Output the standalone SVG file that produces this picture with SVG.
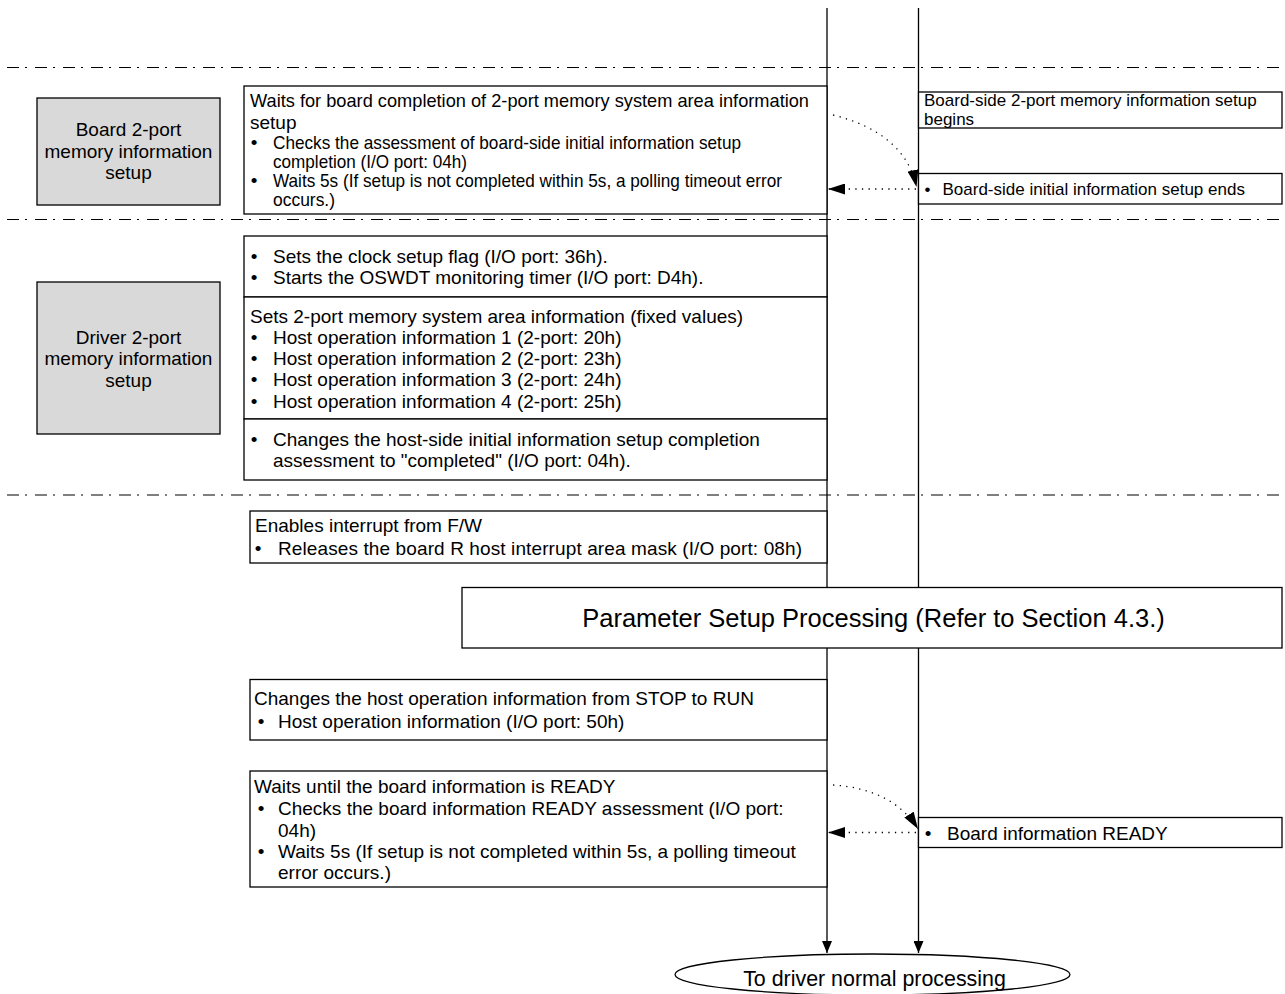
<svg xmlns="http://www.w3.org/2000/svg" width="1285" height="994" viewBox="0 0 1285 994">
  <style>
    text { font-family: "Liberation Sans", Arial, sans-serif; fill: #000; }
    .t { font-size: 19px; }
    .s { font-size: 17px; }
    .c { text-anchor: middle; }
    .box { fill: #fff; stroke: #000; stroke-width: 1.3; }
    .phase { fill: #d9d9d9; stroke: #000; stroke-width: 1.3; }
    .sep { fill: none; stroke: #000; stroke-width: 1.2; stroke-dasharray: 12 6 2 8; }
    .life { fill: none; stroke: #000; stroke-width: 1.3; }
    .dot { fill: none; stroke: #000; stroke-width: 1.3; stroke-dasharray: 1.3 5.3; }
  </style>
  <defs>
    <marker id="arrow-dot" markerUnits="userSpaceOnUse" viewBox="0 0 17 11" refX="17" refY="5.5" markerWidth="17" markerHeight="11" orient="auto">
      <path d="M0,0 L17,5.5 L0,11 z" fill="#000"/>
    </marker>
    <marker id="arrow-down" markerUnits="userSpaceOnUse" viewBox="0 0 12 10" refX="12" refY="5" markerWidth="12" markerHeight="10" orient="auto">
      <path d="M0,0 L12,5 L0,10 z" fill="#000"/>
    </marker>
  </defs>

  <rect width="1285" height="994" fill="#fff"/>

  <!-- phase separators -->
  <g id="separators">
    <line class="sep" x1="7" y1="67.5" x2="1285" y2="67.5"/>
    <line class="sep" x1="7" y1="219.5" x2="1285" y2="219.5"/>
    <line class="sep" x1="7" y1="495" x2="1285" y2="495"/>
  </g>

  <!-- lifelines and connectors -->
  <g id="connectors">
    <path class="life" d="M827,8 V953" marker-end="url(#arrow-down)"/>
    <path class="life" d="M918.5,8 V953" marker-end="url(#arrow-down)"/>
    <path class="dot" d="M833,115 Q905,133 916.5,187" marker-end="url(#arrow-dot)"/>
    <path class="dot" d="M916,189 H828" marker-end="url(#arrow-dot)"/>
    <path class="dot" d="M833,785 Q893,789 918,829" marker-end="url(#arrow-dot)"/>
    <path class="dot" d="M916,832.5 H828" marker-end="url(#arrow-dot)"/>
  </g>

  <!-- phase labels -->
  <g id="phase-board">
    <rect class="phase" x="37" y="98" width="183" height="107"/>
    <text class="t c" x="128.5" y="136">Board 2-port</text>
    <text class="t c" x="128.5" y="158">memory information</text>
    <text class="t c" x="128.5" y="179">setup</text>
  </g>
  <g id="phase-driver">
    <rect class="phase" x="37" y="282" width="183" height="152"/>
    <text class="t c" x="128.5" y="344">Driver 2-port</text>
    <text class="t c" x="128.5" y="365">memory information</text>
    <text class="t c" x="128.5" y="387">setup</text>
  </g>

  <!-- host-side steps -->
  <g id="wait-board-setup">
    <rect class="box" x="244" y="86" width="583" height="128"/>
    <text class="t" x="250" y="107" textLength="559" lengthAdjust="spacingAndGlyphs">Waits for board completion of 2-port memory system area information</text>
    <text class="t" x="250" y="128.5">setup</text>
    <text class="t c" x="254" y="148.5">•</text>
    <text class="t" x="273" y="148.5" textLength="468" lengthAdjust="spacingAndGlyphs">Checks the assessment of board-side initial information setup</text>
    <text class="t" x="273" y="168" textLength="194" lengthAdjust="spacingAndGlyphs">completion (I/O port: 04h)</text>
    <text class="t c" x="254" y="187">•</text>
    <text class="t" x="273" y="187" textLength="509" lengthAdjust="spacingAndGlyphs">Waits 5s (If setup is not completed within 5s, a polling timeout error</text>
    <text class="t" x="273" y="206" textLength="62" lengthAdjust="spacingAndGlyphs">occurs.)</text>
  </g>

  <g id="clock-flag">
    <rect class="box" x="244" y="236" width="583" height="61"/>
    <text class="t c" x="254" y="263">•</text>
    <text class="t" x="273" y="263">Sets the clock setup flag (I/O port: 36h).</text>
    <text class="t c" x="254" y="284">•</text>
    <text class="t" x="273" y="284">Starts the OSWDT monitoring timer (I/O port: D4h).</text>
  </g>

  <g id="system-area">
    <rect class="box" x="244" y="297" width="583" height="122"/>
    <text class="t" x="250" y="322.5">Sets 2-port memory system area information (fixed values)</text>
    <text class="t c" x="254" y="343.5">•</text>
    <text class="t" x="273" y="343.5">Host operation information 1 (2-port: 20h)</text>
    <text class="t c" x="254" y="364.5">•</text>
    <text class="t" x="273" y="364.5">Host operation information 2 (2-port: 23h)</text>
    <text class="t c" x="254" y="386">•</text>
    <text class="t" x="273" y="386">Host operation information 3 (2-port: 24h)</text>
    <text class="t c" x="254" y="407.5">•</text>
    <text class="t" x="273" y="407.5">Host operation information 4 (2-port: 25h)</text>
  </g>

  <g id="host-complete">
    <rect class="box" x="244" y="419" width="583" height="61"/>
    <text class="t c" x="254" y="446">•</text>
    <text class="t" x="273" y="446">Changes the host-side initial information setup completion</text>
    <text class="t" x="273" y="467">assessment to "completed" (I/O port: 04h).</text>
  </g>

  <g id="enable-interrupt">
    <rect class="box" x="250" y="511" width="577" height="52"/>
    <text class="t" x="255" y="532">Enables interrupt from F/W</text>
    <text class="t c" x="258" y="555">•</text>
    <text class="t" x="278" y="555" textLength="524" lengthAdjust="spacing">Releases the board R host interrupt area mask (I/O port: 08h)</text>
  </g>

  <g id="parameter-setup">
    <rect class="box" x="462" y="587.5" width="820" height="60.5"/>
    <text class="c" x="873.5" y="627" font-size="25.5">Parameter Setup Processing (Refer to Section 4.3.)</text>
  </g>

  <g id="stop-to-run">
    <rect class="box" x="250" y="679.5" width="577" height="60.5"/>
    <text class="t" x="254" y="705">Changes the host operation information from STOP to RUN</text>
    <text class="t c" x="261" y="728">•</text>
    <text class="t" x="278" y="728">Host operation information (I/O port: 50h)</text>
  </g>

  <g id="wait-ready">
    <rect class="box" x="250" y="771" width="577" height="116"/>
    <text class="t" x="254" y="793">Waits until the board information is READY</text>
    <text class="t c" x="261" y="815">•</text>
    <text class="t" x="278" y="815">Checks the board information READY assessment (I/O port:</text>
    <text class="t" x="278" y="836.5">04h)</text>
    <text class="t c" x="261" y="858">•</text>
    <text class="t" x="278" y="858">Waits 5s (If setup is not completed within 5s, a polling timeout</text>
    <text class="t" x="278" y="879">error occurs.)</text>
  </g>

  <!-- board-side steps -->
  <g id="board-begins">
    <rect class="box" x="918.5" y="92" width="363.5" height="36"/>
    <text class="s" x="924" y="106">Board-side 2-port memory information setup</text>
    <text class="s" x="924" y="125">begins</text>
  </g>

  <g id="board-ends">
    <rect class="box" x="918.5" y="173.5" width="363.5" height="30.5"/>
    <text class="s c" x="927.5" y="195">•</text>
    <text class="s" x="942.5" y="195">Board-side initial information setup ends</text>
  </g>

  <g id="board-ready">
    <rect class="box" x="918.5" y="817.5" width="363.5" height="30"/>
    <text class="t c" x="928" y="839.5">•</text>
    <text class="t" x="947" y="839.5">Board information READY</text>
  </g>

  <!-- terminator -->
  <g id="normal-processing">
    <ellipse class="box" cx="872.5" cy="974.5" rx="197.5" ry="20.5"/>
    <text class="c" x="874.5" y="985.5" font-size="21.4">To driver normal processing</text>
  </g>
</svg>
